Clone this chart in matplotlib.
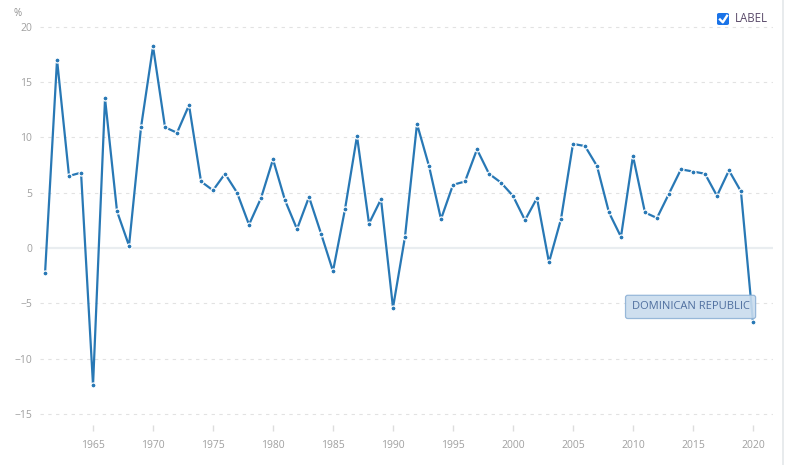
import matplotlib
matplotlib.use('Agg')
import matplotlib.pyplot as plt
from matplotlib.lines import Line2D
from matplotlib.patches import FancyBboxPatch

plt.rcParams['font.family'] = ['Open Sans', 'DejaVu Sans']

years = list(range(1961, 2021))
growth = [-2.3, 17.0, 6.5, 6.8, -12.4, 13.5, 3.3, 0.2, 10.9, 18.2,
          10.9, 10.4, 12.9, 6.0, 5.2, 6.7, 5.0, 2.1, 4.5, 8.0,
          4.3, 1.7, 4.6, 1.3, -2.1, 3.5, 10.1, 2.2, 4.4, -5.4,
          1.0, 11.2, 7.4, 2.6, 5.7, 6.0, 8.9, 6.7, 5.9, 4.7,
          2.5, 4.5, -1.3, 2.6, 9.4, 9.2, 7.4, 3.2, 1.0, 8.3,
          3.2, 2.7, 4.9, 7.1, 6.9, 6.7, 4.7, 7.0, 5.1, -6.7]
xticks = [1965, 1970, 1975, 1980, 1985, 1990, 1995, 2000, 2005, 2010, 2015, 2020]
yticks = [-15, -10, -5, 0, 5, 10, 15, 20]

W, H = 785, 465
fig = plt.figure(figsize=(W / 100, H / 100), dpi=100)
ax = fig.add_axes([40 / W, (H - 425) / H, 733 / W, 404 / H])

line_col = '#2878b5'
ax.plot(years, growth, color=line_col, lw=1.6, zorder=3,
        marker='o', ms=3.6, mfc=line_col, mec='white', mew=0.9)

ax.set_xlim(1960.58, 2021.67)
ax.set_ylim(-16.0, 20.5)

for v in yticks:
    if v == 0:
        ax.axhline(v, color='#e9edf0', lw=1.6, zorder=1)
    else:
        ax.axhline(v, color='#e2e2e2', lw=0.8, ls=(0, (3, 4)), zorder=1)

ax.set_xticks(xticks)
ax.set_yticks(yticks)
ax.tick_params(axis='x', colors='#dddddd', length=4, width=1, pad=7,
               labelcolor='#a0a0a0', labelsize=7.5)
ax.tick_params(axis='y', length=0, pad=5.5, labelcolor='#a0a0a0', labelsize=7.5)
for s in ax.spines.values():
    s.set_visible(False)

fig.text(14 / W, 1 - 13 / H, '%', fontsize=7, color='#909090', ha='left', va='center')

# legend checkbox
cb = FancyBboxPatch((717 / W, 1 - 25 / H), 12 / W, 12 / H,
                    boxstyle='round,pad=0,rounding_size=0.003',
                    transform=fig.transFigure, fc='#1a73e8', ec='none')
fig.add_artist(cb)
fig.add_artist(Line2D([720 / W, 722.8 / W, 727 / W],
                      [1 - 19.5 / H, 1 - 22.3 / H, 1 - 15.8 / H],
                      transform=fig.transFigure, color='white', lw=1.7))
fig.text(735 / W, 1 - 19 / H, 'LABEL', fontsize=8.3, color='#5a4a6a',
         ha='left', va='center')

# series label box
ax.text(2014.8, -5.33, 'DOMINICAN REPUBLIC', fontsize=8, color='#4f6f9f',
        ha='center', va='center', zorder=4,
        bbox=dict(boxstyle='round,pad=0.55,rounding_size=0.2',
                  fc='#c9dcee', ec='#8fb2d6', lw=0.9, alpha=0.9))

# right border
fig.add_artist(Line2D([783 / W, 783 / W], [0, 1], transform=fig.transFigure,
                      color='#e4e8ea', lw=1.2))

fig.savefig('out.png', dpi=100)
